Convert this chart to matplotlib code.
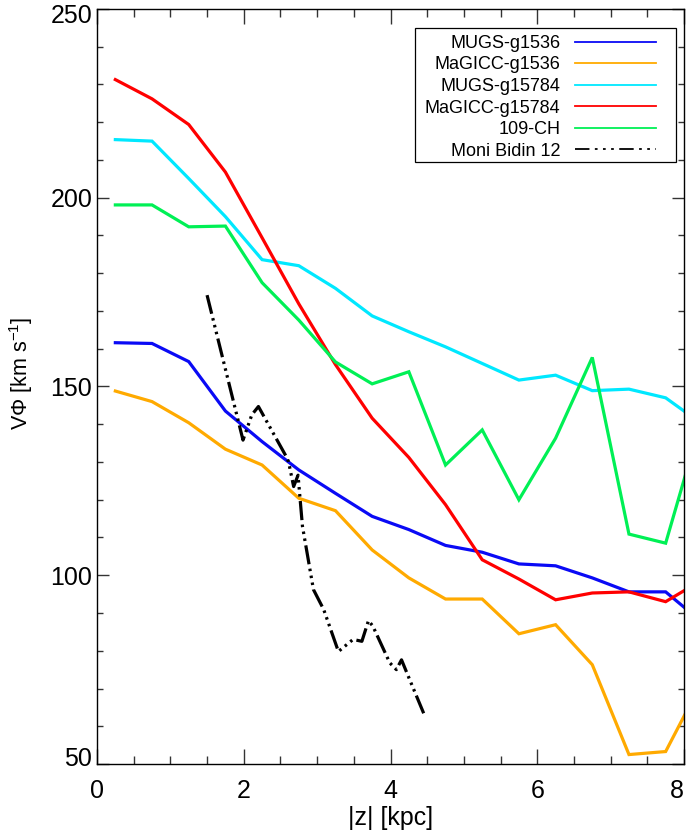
import matplotlib
matplotlib.use('Agg')
import matplotlib.pyplot as plt
from matplotlib.ticker import MultipleLocator
from matplotlib.lines import Line2D
from matplotlib.patches import Rectangle
from matplotlib.transforms import ScaledTranslation

plt.rcParams['font.family'] = ['Liberation Sans', 'DejaVu Sans']
plt.rcParams['mathtext.fontset'] = 'custom'
plt.rcParams['mathtext.rm'] = 'Liberation Sans'
plt.rcParams['mathtext.it'] = 'Liberation Sans:italic'

# ---------------- data ----------------
z = [0.25, 0.75, 1.25, 1.75, 2.25, 2.75, 3.25, 3.75, 4.25,
     4.75, 5.25, 5.75, 6.25, 6.75, 7.25, 7.75, 8.25]

mugs_g1536 = [161.6, 161.4, 156.6, 143.5, 135.4, 127.9, 121.7, 115.6, 112.1,
              107.9, 106.1, 103.0, 102.5, 99.3, 95.6, 95.6, 87.5]
magicc_g1536 = [148.8, 146.0, 140.4, 133.4, 129.2, 120.4, 117.1, 106.7, 99.3,
                93.7, 93.7, 84.5, 86.9, 76.3, 52.5, 53.3, 72.0]
mugs_g15784 = [215.4, 215.0, 205.1, 195.0, 183.6, 182.0, 176.0, 168.7, 164.5,
               160.5, 156.1, 151.7, 153.0, 148.9, 149.3, 147.0, 140.0]
magicc_g15784 = [231.3, 226.2, 219.4, 206.8, 189.4, 171.9, 155.8, 141.6, 131.2,
                 118.7, 104.1, 99.0, 93.5, 95.3, 95.6, 93.0, 98.8]
ch109 = [198.1, 198.1, 192.3, 192.5, 177.5, 167.6, 156.5, 150.7, 153.9,
         129.2, 138.5, 120.0, 136.3, 157.7, 110.9, 108.5, 142.0]

z_mb = [1.50, 1.99, 2.11, 2.20, 2.58, 2.61, 2.68, 2.74, 2.80, 2.95, 3.09,
        3.29, 3.49, 3.61, 3.70, 3.76, 3.99, 4.08, 4.15, 4.26, 4.47]
v_mb = [174.2, 135.8, 142.5, 144.7, 131.4, 130.1, 123.5, 126.5, 113.0, 96.2, 90.9,
        79.8, 83.0, 82.5, 88.0, 86.5, 76.8, 75.0, 77.6, 72.4, 62.6]

labels = ['MUGS-g1536', 'MaGICC-g1536', 'MUGS-g15784', 'MaGICC-g15784',
          '109-CH', 'Moni Bidin 12']
colors = ['#0A0AF5', '#FFAA00', '#00E8FF', '#FF0000', '#00F055', 'black']
series = [mugs_g1536, magicc_g1536, mugs_g15784, magicc_g15784, ch109]

MB_DASH = (6, 1.4, 0.8, 1.4, 0.8, 1.4, 0.8, 1.4)

# ---------------- figure ----------------
fig = plt.figure(figsize=(6.89, 8.32), dpi=100)
ax = fig.add_axes([97/689, 68/832, 587/689, 755/832])

for vals, c in zip(series, colors[:5]):
    ax.plot(z, vals, color=c, lw=2.3, solid_joinstyle='miter')

mb, = ax.plot(z_mb, v_mb, color='black', lw=2.3, dash_capstyle='butt')
mb.set_dashes(MB_DASH)

ax.set_xlim(0, 8)
ax.set_ylim(50, 250)
ax.xaxis.set_major_locator(MultipleLocator(2))
ax.xaxis.set_minor_locator(MultipleLocator(0.5))
ax.yaxis.set_major_locator(MultipleLocator(50))
ax.yaxis.set_minor_locator(MultipleLocator(10))

ax.tick_params(which='both', direction='in', top=True, right=True,
               width=1.0, color='#333333')
ax.tick_params(axis='x', which='major', length=11, pad=11, labelsize=18)
ax.tick_params(axis='x', which='minor', length=5.7)
ax.tick_params(axis='y', which='major', length=8.6, pad=3.5, labelsize=18)
ax.tick_params(axis='y', which='minor', length=4.5)
for s in ax.spines.values():
    s.set_linewidth(1.0)

ax.set_xlabel('|z| [kpc]', fontsize=18, labelpad=2)
ax.set_ylabel('V\u03a6 [km s$^{-1}$]', fontsize=15.5)
ax.yaxis.set_label_coords(-0.106, 0.518)

# legend: frame drawn as a box, entries drawn by matplotlib's legend
frame = Rectangle((0.5417, 0.7974), 0.9864 - 0.5417, 0.9742 - 0.7974,
                  transform=ax.transAxes, facecolor='white',
                  edgecolor='black', lw=0.9, zorder=4)
ax.add_patch(frame)

handles = []
for c in colors[:5]:
    handles.append(Line2D([], [], color=c, lw=1.3))
h_mb = Line2D([], [], color='black', lw=1.3, dash_capstyle='butt')
h_mb.set_dashes((8, 3, 1.5, 3, 1.5, 3, 1.5, 3))
handles.append(h_mb)

leg = ax.legend(handles, labels, loc='upper right',
                bbox_to_anchor=(0.9523, 0.9656), borderaxespad=0,
                markerfirst=False, fontsize=13, frameon=False,
                handlelength=4.5, handletextpad=0.8, labelspacing=0.25,
                borderpad=0)
leg.set_zorder(5)

fig.canvas.draw()
for t in ax.get_yticklabels():
    if t.get_text() == '50':
        t.set_transform(t.get_transform() +
                        ScaledTranslation(0, 7.5/100, fig.dpi_scale_trans))
    elif t.get_text() == '250':
        t.set_transform(t.get_transform() +
                        ScaledTranslation(0, -4.5/100, fig.dpi_scale_trans))
for t in ax.get_xticklabels():
    if t.get_text() == '8':
        t.set_ha('right')

fig.savefig('out.png', dpi=100)
